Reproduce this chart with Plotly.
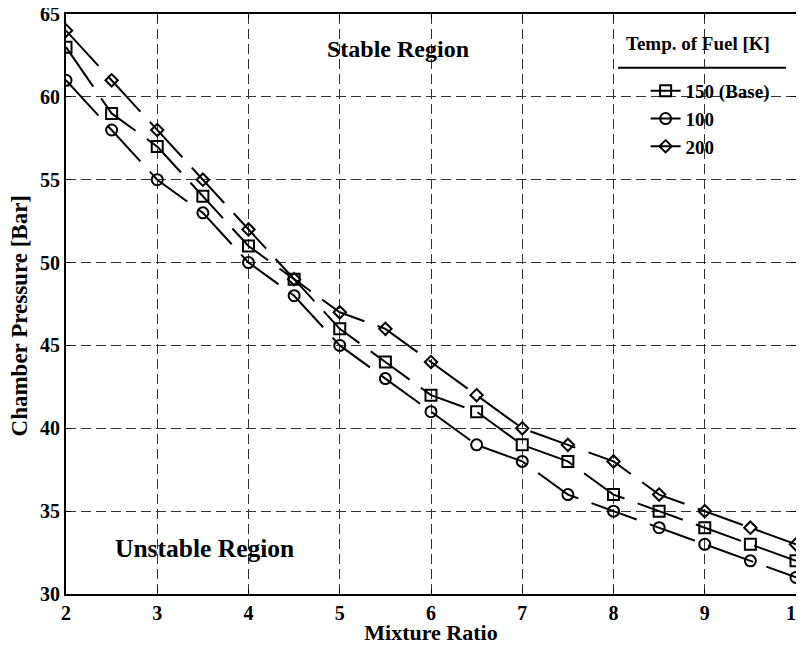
import plotly.graph_objects as go

mixture_ratio = [2, 2.5, 3, 3.5, 4, 4.5, 5, 5.5, 6, 6.5, 7, 7.5, 8, 8.5, 9, 9.5, 10]
p_150 = [63, 59, 57, 54, 51, 49, 46, 44, 42, 41, 39, 38, 36, 35, 34, 33, 32]
p_100 = [61, 58, 55, 53, 50, 48, 45, 43, 41, 39, 38, 36, 35, 34, 33, 32, 31]
p_200 = [64, 61, 58, 55, 52, 49, 47, 46, 44, 42, 40, 39, 38, 36, 35, 34, 33]
series_names = ["150 (Base)", "100", "200"]
markers = ["square-open", "circle-open", "diamond-open"]
marker_sizes = [11, 11, 9.5]

FONT = "Liberation Serif"

fig = go.Figure()
for name, ys, sym, ms in zip(series_names, [p_150, p_100, p_200], markers, marker_sizes):
    fig.add_trace(go.Scatter(
        x=mixture_ratio, y=ys, name=name, mode="lines+markers",
        line=dict(color="black", width=2, dash="48px,14px"),
        marker=dict(symbol=sym, size=ms, color="black", line=dict(width=2, color="black")),
    ))

# page body has an 8px margin, so the figure is 8px smaller than the window
fig.update_layout(
    width=796, height=637,
    margin=dict(l=58, r=8, t=6, b=51, autoexpand=False),
    plot_bgcolor="white", paper_bgcolor="white",
    font=dict(family=FONT, size=20, color="black"),
    showlegend=True,
    legend=dict(
        x=0.794, y=0.9, xanchor="left", yanchor="top",
        bgcolor="rgba(0,0,0,0)", borderwidth=0,
        font=dict(family=FONT, size=19, color="black", weight="bold"),
        tracegroupgap=0,
    ),
)

axis_common = dict(
    showline=True, linecolor="black", linewidth=2, mirror="ticks",
    ticks="inside", ticklen=5, tickcolor="black",
    showgrid=True, gridcolor="#333", griddash="10px,5px", gridwidth=1,
    zeroline=False, automargin=False, ticklabeloverflow="allow",
    tickfont=dict(family=FONT, size=20, color="black", weight="bold"),
)
fig.update_xaxes(
    range=[2, 10], tickvals=[2, 3, 4, 5, 6, 7, 8, 9, 10], **axis_common,
    title=dict(text="<b>Mixture Ratio</b>", font=dict(family=FONT, size=22), standoff=1),
)
fig.update_yaxes(
    range=[30, 65], tickvals=[30, 35, 40, 45, 50, 55, 60, 65], **axis_common,
)

fig.add_annotation(x=-0.064, y=0.479, xref="paper", yref="paper", textangle=-90,
                   xanchor="center", yanchor="middle",
                   text="<b>Chamber Pressure [Bar]</b>", showarrow=False,
                   font=dict(family=FONT, size=23, color="black"))
fig.add_annotation(x=5.64, y=62.89, xref="x", yref="y", text="<b>Stable Region</b>",
                   showarrow=False, font=dict(family=FONT, size=24, color="black"))
fig.add_annotation(x=3.52, y=32.77, xref="x", yref="y", text="<b>Unstable Region</b>",
                   showarrow=False, font=dict(family=FONT, size=25.5, color="black"))
fig.add_annotation(x=8.93, y=63.2, xref="x", yref="y", text="<b>Temp. of Fuel [K]</b>",
                   showarrow=False, font=dict(family=FONT, size=19, color="black"))
fig.add_shape(type="line", xref="x", yref="y", x0=8.05, x1=9.89, y0=61.75, y1=61.75,
              line=dict(color="black", width=2))

fig.write_html("out.html")
